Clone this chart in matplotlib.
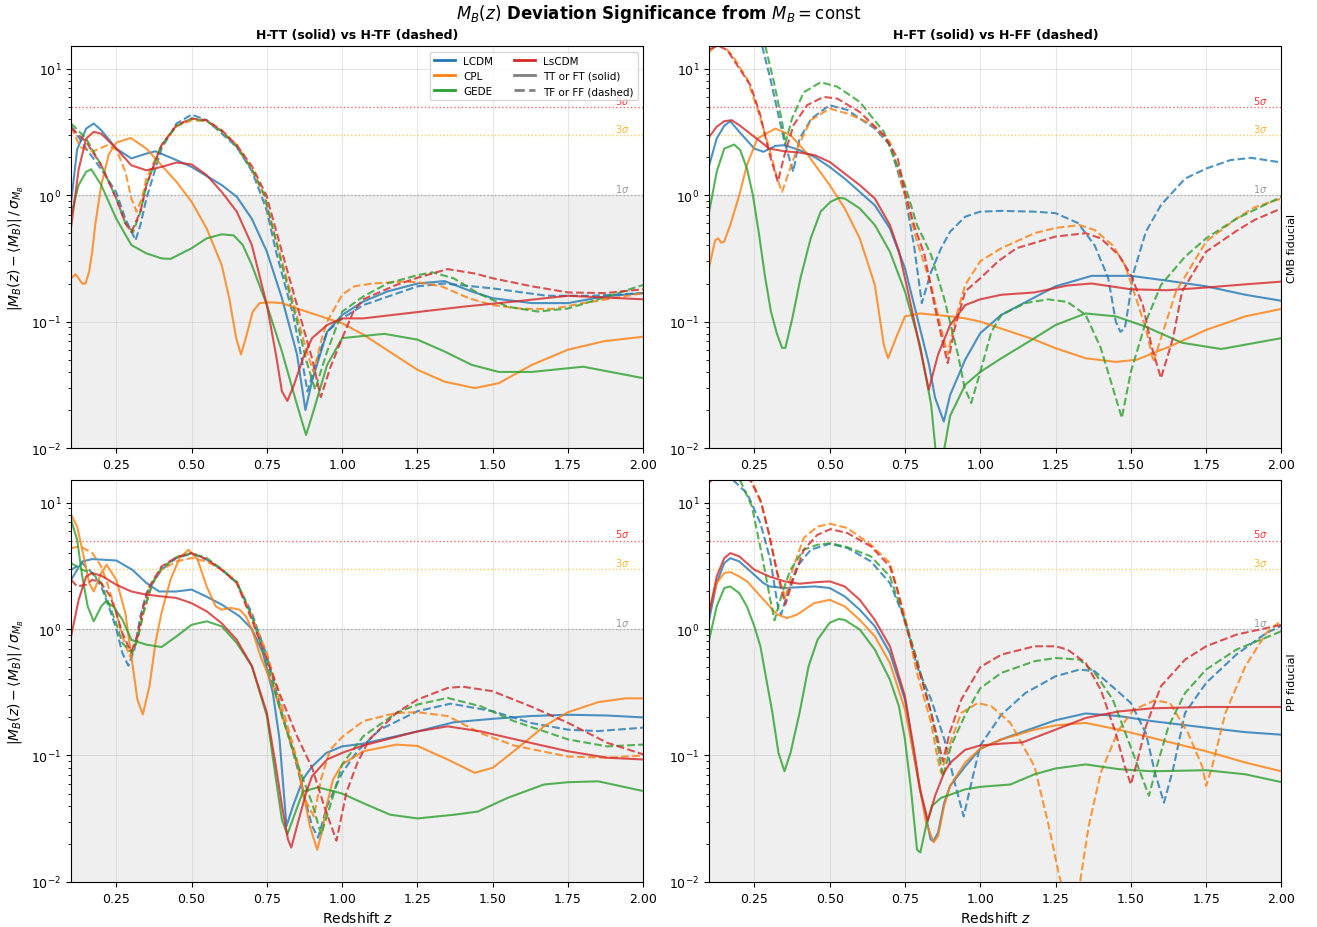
import numpy as np
import matplotlib.pyplot as plt
from matplotlib.lines import Line2D
from matplotlib.ticker import MultipleLocator

models = ['LCDM', 'CPL', 'GEDE', 'LsCDM']
model_colors = ['#1f77b4', '#ff7f0e', '#2ca02c', '#d62728']

# ---- top left: CMB fiducial, H-TT (solid) vs H-TF (dashed) ----
tl_lcdm_s_z = [0.1, 0.12, 0.15, 0.175, 0.2, 0.25, 0.3, 0.35, 0.38, 0.45, 0.5, 0.6, 0.65, 0.7, 0.75, 0.8, 0.85, 0.878, 0.9, 0.95, 1.0, 1.07, 1.15, 1.25, 1.34, 1.43, 1.5, 1.63, 1.75, 1.87, 2.0]
tl_lcdm_s_v = [0.88, 2.3, 3.36, 3.68, 3.26, 2.33, 1.95, 2.13, 2.22, 1.89, 1.67, 1.2, 0.97, 0.65, 0.357, 0.153, 0.055, 0.02, 0.034, 0.083, 0.113, 0.144, 0.173, 0.2, 0.209, 0.173, 0.153, 0.14, 0.14, 0.158, 0.168]
tl_cpl_s_z = [0.1, 0.115, 0.137, 0.148, 0.16, 0.17, 0.18, 0.2, 0.225, 0.25, 0.298, 0.35, 0.4, 0.45, 0.5, 0.55, 0.6, 0.625, 0.648, 0.664, 0.68, 0.703, 0.726, 0.76, 0.8, 0.85, 0.9, 0.95, 1.0, 1.07, 1.14, 1.25, 1.34, 1.44, 1.52, 1.63, 1.75, 1.87, 2.0]
tl_cpl_s_v = [0.22, 0.237, 0.2, 0.2, 0.25, 0.357, 0.58, 1.2, 2.1, 2.6, 2.83, 2.33, 1.72, 1.27, 0.886, 0.545, 0.28, 0.153, 0.074, 0.055, 0.074, 0.12, 0.14, 0.142, 0.14, 0.127, 0.116, 0.106, 0.097, 0.079, 0.0615, 0.0416, 0.0335, 0.0298, 0.0326, 0.0455, 0.06, 0.07, 0.076]
tl_gede_s_z = [0.1, 0.125, 0.15, 0.167, 0.2, 0.25, 0.3, 0.35, 0.4, 0.43, 0.5, 0.55, 0.6, 0.64, 0.67, 0.7, 0.75, 0.8, 0.85, 0.88, 0.9, 0.95, 1.0, 1.07, 1.14, 1.25, 1.34, 1.43, 1.52, 1.63, 1.8, 2.0]
tl_gede_s_v = [0.7, 1.2, 1.53, 1.6, 1.2, 0.65, 0.403, 0.346, 0.316, 0.313, 0.38, 0.455, 0.49, 0.48, 0.403, 0.28, 0.135, 0.058, 0.022, 0.0127, 0.018, 0.0455, 0.074, 0.077, 0.08, 0.072, 0.058, 0.0455, 0.04, 0.04, 0.044, 0.0357]
tl_lscdm_s_z = [0.1, 0.125, 0.15, 0.175, 0.2, 0.25, 0.3, 0.35, 0.4, 0.45, 0.5, 0.55, 0.6, 0.65, 0.7, 0.75, 0.78, 0.8, 0.818, 0.84, 0.87, 0.9, 0.95, 1.0, 1.07, 1.25, 1.4, 1.57, 1.75, 2.0]
tl_lscdm_s_v = [0.56, 1.6, 2.8, 3.16, 3.06, 2.33, 1.72, 1.57, 1.67, 1.81, 1.75, 1.44, 1.06, 0.74, 0.403, 0.135, 0.055, 0.028, 0.0236, 0.0316, 0.0513, 0.074, 0.094, 0.106, 0.106, 0.119, 0.131, 0.144, 0.16, 0.15]

tl_lcdm_d_z = [0.1, 0.15, 0.2, 0.25, 0.28, 0.314, 0.33, 0.35, 0.4, 0.45, 0.5, 0.55, 0.6, 0.65, 0.7, 0.731, 0.75, 0.78, 0.8, 0.837, 0.86, 0.885, 0.91, 0.95, 1.0, 1.07, 1.25, 1.34, 1.5, 1.68, 1.83, 2.0]
tl_lcdm_d_v = [3.52, 2.33, 1.6, 1.05, 0.65, 0.44, 0.58, 0.94, 2.33, 3.68, 4.33, 3.91, 3.07, 2.4, 1.55, 1.0, 0.75, 0.36, 0.24, 0.113, 0.06, 0.028, 0.045, 0.083, 0.106, 0.135, 0.19, 0.2, 0.183, 0.16, 0.16, 0.168]
tl_cpl_d_z = [0.1, 0.13, 0.17, 0.22, 0.25, 0.28, 0.3, 0.317, 0.335, 0.35, 0.4, 0.45, 0.5, 0.55, 0.6, 0.65, 0.7, 0.74, 0.8, 0.85, 0.88, 0.905, 0.93, 0.95, 1.0, 1.04, 1.1, 1.2, 1.25, 1.33, 1.42, 1.5, 1.6, 1.7, 1.8, 1.9, 2.0]
tl_cpl_d_v = [3.46, 2.4, 2.2, 2.48, 2.3, 1.53, 0.94, 0.74, 0.94, 1.35, 2.48, 3.5, 3.9, 3.85, 3.2, 2.5, 1.6, 1.0, 0.3, 0.11, 0.06, 0.04, 0.07, 0.1, 0.163, 0.19, 0.2, 0.207, 0.205, 0.19, 0.153, 0.135, 0.126, 0.126, 0.14, 0.153, 0.168]
tl_gede_d_z = [0.1, 0.15, 0.2, 0.25, 0.28, 0.306, 0.33, 0.35, 0.4, 0.45, 0.5, 0.55, 0.6, 0.65, 0.7, 0.742, 0.8, 0.85, 0.88, 0.91, 0.95, 1.0, 1.07, 1.15, 1.25, 1.3, 1.37, 1.45, 1.55, 1.65, 1.75, 1.85, 2.0]
tl_gede_d_v = [3.68, 2.8, 1.72, 0.94, 0.6, 0.51, 0.74, 1.2, 2.48, 3.52, 4.03, 3.85, 3.2, 2.4, 1.6, 1.0, 0.28, 0.1, 0.05, 0.029, 0.058, 0.12, 0.158, 0.2, 0.233, 0.245, 0.22, 0.168, 0.131, 0.12, 0.127, 0.15, 0.195]
tl_lscdm_d_z = [0.1, 0.15, 0.2, 0.25, 0.28, 0.3, 0.33, 0.35, 0.4, 0.45, 0.5, 0.55, 0.6, 0.65, 0.7, 0.748, 0.8, 0.85, 0.9, 0.929, 0.96, 1.0, 1.037, 1.07, 1.18, 1.25, 1.35, 1.44, 1.5, 1.63, 1.75, 1.87, 2.0]
tl_lscdm_d_v = [3.4, 2.63, 1.72, 0.94, 0.6, 0.51, 0.74, 1.2, 2.48, 3.57, 4.03, 3.91, 3.26, 2.48, 1.7, 1.0, 0.357, 0.135, 0.051, 0.0253, 0.043, 0.074, 0.12, 0.15, 0.195, 0.222, 0.26, 0.24, 0.22, 0.19, 0.17, 0.168, 0.18]

# ---- top right: CMB fiducial, H-FT (solid) vs H-FF (dashed) ----
tr_lcdm_s_z = [0.1, 0.125, 0.15, 0.17, 0.2, 0.25, 0.28, 0.32, 0.35, 0.4, 0.45, 0.5, 0.55, 0.6, 0.65, 0.7, 0.75, 0.8, 0.83, 0.85, 0.879, 0.9, 0.95, 1.0, 1.07, 1.25, 1.37, 1.5, 1.625, 1.75, 1.88, 2.0]
tr_lcdm_s_v = [1.72, 2.8, 3.53, 3.84, 3.16, 2.33, 2.2, 2.45, 2.48, 2.27, 2.0, 1.67, 1.35, 1.06, 0.83, 0.545, 0.264, 0.088, 0.0455, 0.025, 0.0162, 0.0263, 0.05, 0.081, 0.113, 0.19, 0.23, 0.23, 0.21, 0.19, 0.163, 0.146]
tr_cpl_s_z = [0.1, 0.12, 0.13, 0.14, 0.15, 0.17, 0.2, 0.225, 0.26, 0.32, 0.37, 0.42, 0.5, 0.55, 0.6, 0.65, 0.68, 0.694, 0.72, 0.75, 0.8, 0.85, 0.9, 0.95, 1.0, 1.07, 1.18, 1.25, 1.35, 1.45, 1.52, 1.63, 1.75, 1.88, 2.0]
tr_cpl_s_v = [0.272, 0.44, 0.455, 0.42, 0.43, 0.58, 1.0, 1.72, 2.8, 3.36, 2.98, 2.2, 1.2, 0.785, 0.455, 0.195, 0.065, 0.0513, 0.074, 0.11, 0.116, 0.113, 0.11, 0.106, 0.1, 0.088, 0.072, 0.0616, 0.0513, 0.048, 0.05, 0.0637, 0.086, 0.11, 0.126]
tr_gede_s_z = [0.1, 0.125, 0.15, 0.183, 0.203, 0.226, 0.245, 0.265, 0.285, 0.305, 0.325, 0.342, 0.353, 0.376, 0.403, 0.437, 0.47, 0.503, 0.531, 0.55, 0.6, 0.65, 0.7, 0.75, 0.8, 0.837, 0.851, 0.866, 0.881, 0.9, 0.95, 1.0, 1.07, 1.18, 1.25, 1.35, 1.45, 1.55, 1.67, 1.8, 2.0]
tr_gede_s_v = [0.74, 1.53, 2.33, 2.51, 2.27, 1.6, 1.0, 0.5, 0.23, 0.12, 0.08, 0.062, 0.062, 0.106, 0.22, 0.455, 0.74, 0.886, 0.95, 0.94, 0.785, 0.58, 0.357, 0.173, 0.065, 0.022, 0.01, 0.006, 0.01, 0.018, 0.0316, 0.04, 0.0513, 0.074, 0.094, 0.116, 0.11, 0.091, 0.068, 0.0607, 0.074]
tr_lscdm_s_z = [0.1, 0.125, 0.15, 0.175, 0.2, 0.25, 0.3, 0.35, 0.4, 0.45, 0.5, 0.55, 0.6, 0.65, 0.7, 0.73, 0.76, 0.8, 0.829, 0.86, 0.9, 0.95, 1.0, 1.07, 1.18, 1.29, 1.37, 1.5, 1.62, 1.75, 1.88, 2.0]
tr_lscdm_s_v = [2.89, 3.47, 3.84, 3.91, 3.57, 2.89, 2.33, 2.22, 2.17, 2.07, 1.83, 1.48, 1.2, 0.94, 0.58, 0.36, 0.173, 0.0616, 0.029, 0.055, 0.094, 0.135, 0.15, 0.163, 0.17, 0.193, 0.2, 0.18, 0.177, 0.186, 0.197, 0.207]

tr_lcdm_d_z = [0.1, 0.2, 0.276, 0.303, 0.33, 0.35, 0.379, 0.4, 0.44, 0.5, 0.56, 0.6, 0.65, 0.7, 0.726, 0.75, 0.78, 0.806, 0.837, 0.87, 0.9, 0.95, 1.0, 1.07, 1.18, 1.25, 1.325, 1.38, 1.425, 1.45, 1.465, 1.48, 1.51, 1.55, 1.6, 1.68, 1.75, 1.83, 1.9, 2.0]
tr_lcdm_d_v = [25, 25, 15, 8.3, 4.28, 2.63, 1.53, 2.8, 4.03, 5.14, 4.7, 4.03, 3.36, 2.48, 1.53, 1.0, 0.4, 0.14, 0.248, 0.38, 0.514, 0.675, 0.74, 0.75, 0.74, 0.72, 0.6, 0.4, 0.22, 0.1, 0.083, 0.088, 0.248, 0.514, 0.834, 1.35, 1.62, 1.89, 1.97, 1.81]
tr_cpl_d_z = [0.1, 0.125, 0.15, 0.18, 0.226, 0.264, 0.3, 0.326, 0.342, 0.365, 0.392, 0.437, 0.5, 0.56, 0.637, 0.7, 0.726, 0.75, 0.79, 0.837, 0.87, 0.892, 0.915, 0.95, 1.0, 1.07, 1.18, 1.25, 1.33, 1.38, 1.44, 1.48, 1.51, 1.55, 1.575, 1.6, 1.65, 1.75, 1.85, 1.91, 2.0]
tr_cpl_d_v = [13.5, 15.5, 15.0, 12.4, 8.3, 4.5, 2.33, 1.35, 1.06, 1.53, 2.33, 3.91, 4.83, 4.4, 3.68, 2.63, 1.62, 1.0, 0.43, 0.195, 0.088, 0.055, 0.1, 0.195, 0.3, 0.38, 0.5, 0.55, 0.58, 0.53, 0.4, 0.28, 0.173, 0.088, 0.048, 0.074, 0.173, 0.43, 0.65, 0.8, 0.94]
tr_gede_d_z = [0.1, 0.2, 0.287, 0.315, 0.342, 0.353, 0.375, 0.414, 0.47, 0.525, 0.6, 0.68, 0.75, 0.79, 0.837, 0.88, 0.926, 0.948, 0.97, 1.0, 1.037, 1.07, 1.15, 1.225, 1.29, 1.35, 1.4, 1.45, 1.47, 1.5, 1.55, 1.6, 1.68, 1.75, 1.85, 2.0]
tr_gede_d_v = [25, 30, 14.8, 7.8, 3.8, 2.56, 4.03, 6.5, 7.8, 7.2, 5.45, 3.16, 1.2, 0.58, 0.336, 0.153, 0.055, 0.03, 0.0227, 0.04, 0.083, 0.113, 0.14, 0.15, 0.143, 0.113, 0.062, 0.025, 0.0173, 0.04, 0.1, 0.195, 0.326, 0.455, 0.65, 0.97]
tr_lscdm_d_z = [0.1, 0.13, 0.16, 0.19, 0.237, 0.27, 0.298, 0.328, 0.35, 0.38, 0.425, 0.48, 0.525, 0.6, 0.68, 0.726, 0.75, 0.78, 0.815, 0.848, 0.88, 0.892, 0.915, 0.95, 1.0, 1.06, 1.12, 1.25, 1.35, 1.4, 1.46, 1.5, 1.54, 1.57, 1.6, 1.64, 1.67, 1.75, 1.85, 1.91, 2.0]
tr_lscdm_d_v = [14.2, 15.2, 14.0, 10.9, 7.4, 4.28, 2.2, 1.27, 2.07, 3.57, 5.14, 5.97, 5.8, 4.54, 2.98, 1.95, 1.06, 0.58, 0.336, 0.135, 0.0616, 0.047, 0.088, 0.173, 0.22, 0.3, 0.38, 0.47, 0.5, 0.455, 0.336, 0.233, 0.135, 0.062, 0.0357, 0.074, 0.173, 0.357, 0.52, 0.635, 0.785]

# ---- bottom left: PP fiducial, H-TT (solid) vs H-TF (dashed) ----
bl_lcdm_s_z = [0.1, 0.137, 0.17, 0.25, 0.303, 0.35, 0.392, 0.45, 0.5, 0.548, 0.6, 0.659, 0.7, 0.737, 0.77, 0.792, 0.815, 0.837, 0.87, 0.9, 0.948, 1.0, 1.07, 1.25, 1.37, 1.5, 1.625, 1.75, 1.88, 2.0]
bl_lcdm_s_v = [2.45, 3.42, 3.57, 3.48, 2.94, 2.31, 1.98, 1.98, 2.05, 1.81, 1.56, 1.26, 1.0, 0.646, 0.31, 0.134, 0.0277, 0.04, 0.065, 0.082, 0.105, 0.118, 0.124, 0.155, 0.183, 0.195, 0.205, 0.21, 0.207, 0.2]
bl_cpl_s_z = [0.1, 0.12, 0.137, 0.16, 0.175, 0.2, 0.218, 0.25, 0.28, 0.3, 0.32, 0.338, 0.36, 0.38, 0.4, 0.43, 0.46, 0.49, 0.52, 0.55, 0.58, 0.6, 0.63, 0.66, 0.68, 0.7, 0.73, 0.77, 0.826, 0.859, 0.892, 0.917, 0.935, 0.95, 0.97, 1.0, 1.07, 1.18, 1.25, 1.35, 1.44, 1.5, 1.58, 1.67, 1.75, 1.85, 1.94, 2.0]
bl_cpl_s_v = [8.0, 6.46, 4.23, 2.31, 1.98, 2.77, 3.22, 2.45, 1.34, 0.61, 0.277, 0.211, 0.352, 0.775, 1.34, 2.45, 3.64, 4.23, 3.53, 2.17, 1.51, 1.42, 1.47, 1.42, 1.26, 0.995, 0.6, 0.35, 0.134, 0.073, 0.028, 0.018, 0.026, 0.042, 0.065, 0.085, 0.108, 0.122, 0.119, 0.093, 0.073, 0.08, 0.113, 0.17, 0.22, 0.264, 0.283, 0.283]
bl_gede_s_z = [0.1, 0.12, 0.137, 0.155, 0.175, 0.2, 0.215, 0.24, 0.27, 0.3, 0.35, 0.4, 0.45, 0.5, 0.55, 0.6, 0.65, 0.7, 0.75, 0.78, 0.8, 0.818, 0.84, 0.87, 0.92, 0.96, 1.0, 1.07, 1.16, 1.25, 1.37, 1.45, 1.55, 1.67, 1.75, 1.85, 2.0]
bl_gede_s_v = [7.3, 5.07, 2.6, 1.51, 1.15, 1.51, 1.65, 1.51, 1.19, 0.82, 0.752, 0.72, 0.875, 1.08, 1.15, 1.05, 0.775, 0.51, 0.205, 0.065, 0.031, 0.0238, 0.0332, 0.052, 0.056, 0.053, 0.05, 0.042, 0.034, 0.0318, 0.034, 0.036, 0.0463, 0.059, 0.0615, 0.0625, 0.0523]
bl_lscdm_s_z = [0.1, 0.125, 0.15, 0.17, 0.2, 0.25, 0.3, 0.35, 0.4, 0.45, 0.5, 0.55, 0.6, 0.65, 0.7, 0.75, 0.78, 0.8, 0.82, 0.831, 0.85, 0.88, 0.9, 0.95, 1.0, 1.07, 1.25, 1.35, 1.46, 1.625, 1.75, 1.88, 2.0]
bl_lscdm_s_v = [0.875, 1.7, 2.6, 2.77, 2.64, 2.24, 1.98, 1.87, 1.81, 1.76, 1.6, 1.38, 1.11, 0.82, 0.51, 0.217, 0.082, 0.04, 0.0217, 0.0187, 0.0277, 0.0507, 0.0687, 0.093, 0.105, 0.12, 0.155, 0.17, 0.155, 0.126, 0.108, 0.096, 0.093]

bl_lcdm_d_z = [0.1, 0.137, 0.17, 0.2, 0.225, 0.25, 0.27, 0.29, 0.31, 0.33, 0.35, 0.4, 0.45, 0.5, 0.55, 0.6, 0.65, 0.7, 0.75, 0.8, 0.85, 0.88, 0.9, 0.92, 0.95, 1.0, 1.05, 1.125, 1.25, 1.36, 1.5, 1.625, 1.75, 1.85, 2.0]
bl_lcdm_d_v = [2.94, 3.32, 2.77, 2.17, 1.51, 1.0, 0.646, 0.513, 0.687, 1.26, 1.92, 2.94, 3.64, 3.93, 3.53, 2.94, 2.31, 1.34, 0.61, 0.217, 0.082, 0.042, 0.0277, 0.0224, 0.04, 0.073, 0.108, 0.16, 0.224, 0.257, 0.224, 0.181, 0.16, 0.156, 0.166]
bl_cpl_d_z = [0.1, 0.13, 0.17, 0.2, 0.22, 0.25, 0.27, 0.295, 0.32, 0.34, 0.37, 0.4, 0.45, 0.5, 0.55, 0.6, 0.65, 0.7, 0.75, 0.8, 0.85, 0.87, 0.906, 0.93, 0.96, 1.0, 1.07, 1.18, 1.25, 1.35, 1.46, 1.57, 1.75, 1.88, 2.0]
bl_cpl_d_v = [4.36, 4.5, 4.0, 3.12, 2.31, 1.34, 0.875, 0.609, 0.82, 1.34, 2.31, 2.94, 3.42, 3.64, 3.42, 2.94, 2.38, 1.26, 0.646, 0.245, 0.093, 0.048, 0.033, 0.065, 0.111, 0.14, 0.187, 0.217, 0.22, 0.205, 0.15, 0.12, 0.098, 0.096, 0.1]
bl_gede_d_z = [0.1, 0.137, 0.17, 0.2, 0.22, 0.25, 0.27, 0.303, 0.32, 0.34, 0.37, 0.4, 0.45, 0.5, 0.55, 0.6, 0.65, 0.7, 0.75, 0.8, 0.85, 0.9, 0.93, 0.96, 1.0, 1.07, 1.18, 1.25, 1.35, 1.46, 1.57, 1.75, 1.88, 2.0]
bl_gede_d_v = [3.32, 2.94, 2.77, 2.31, 1.7, 1.11, 0.775, 0.646, 0.82, 1.34, 2.31, 3.03, 3.7, 3.98, 3.64, 2.98, 2.34, 1.26, 0.54, 0.205, 0.088, 0.042, 0.0238, 0.04, 0.085, 0.142, 0.217, 0.253, 0.285, 0.245, 0.187, 0.134, 0.118, 0.122]
bl_lscdm_d_z = [0.1, 0.12, 0.15, 0.17, 0.2, 0.23, 0.25, 0.27, 0.29, 0.3, 0.32, 0.34, 0.36, 0.4, 0.45, 0.5, 0.55, 0.6, 0.65, 0.7, 0.75, 0.8, 0.85, 0.9, 0.94, 0.981, 1.014, 1.05, 1.09, 1.18, 1.25, 1.35, 1.4, 1.5, 1.625, 1.75, 1.88, 2.0]
bl_lscdm_d_v = [2.45, 2.17, 2.24, 2.45, 2.31, 1.81, 1.34, 0.93, 0.73, 0.667, 0.875, 1.51, 2.17, 3.12, 3.7, 3.98, 3.57, 2.94, 2.31, 1.18, 0.573, 0.277, 0.142, 0.08, 0.04, 0.0212, 0.051, 0.087, 0.134, 0.217, 0.277, 0.342, 0.35, 0.322, 0.245, 0.181, 0.126, 0.102]

# ---- bottom right: PP fiducial, H-FT (solid) vs H-FF (dashed) ----
br_lcdm_s_z = [0.1, 0.125, 0.15, 0.17, 0.2, 0.25, 0.28, 0.3, 0.35, 0.4, 0.45, 0.5, 0.55, 0.6, 0.65, 0.7, 0.75, 0.78, 0.8, 0.82, 0.835, 0.844, 0.86, 0.88, 0.9, 0.95, 1.0, 1.07, 1.18, 1.25, 1.35, 1.46, 1.57, 1.75, 1.88, 2.0]
br_lcdm_s_v = [1.19, 2.31, 3.32, 3.63, 3.42, 2.68, 2.31, 2.17, 2.11, 2.14, 2.17, 2.11, 1.81, 1.42, 1.05, 0.646, 0.277, 0.099, 0.054, 0.033, 0.0218, 0.021, 0.0246, 0.042, 0.0575, 0.082, 0.113, 0.134, 0.166, 0.19, 0.215, 0.205, 0.187, 0.166, 0.153, 0.146]
br_cpl_s_z = [0.1, 0.125, 0.15, 0.17, 0.2, 0.226, 0.281, 0.326, 0.359, 0.392, 0.448, 0.5, 0.55, 0.6, 0.65, 0.7, 0.75, 0.78, 0.8, 0.82, 0.845, 0.86, 0.88, 0.9, 0.95, 1.0, 1.07, 1.18, 1.25, 1.35, 1.46, 1.57, 1.75, 1.88, 2.0]
br_cpl_s_v = [1.38, 2.31, 2.77, 2.82, 2.6, 2.38, 1.7, 1.3, 1.22, 1.3, 1.6, 1.7, 1.51, 1.18, 0.875, 0.54, 0.231, 0.099, 0.054, 0.0295, 0.0206, 0.023, 0.04, 0.0575, 0.088, 0.113, 0.134, 0.16, 0.173, 0.181, 0.16, 0.138, 0.108, 0.088, 0.075]
br_gede_s_z = [0.1, 0.125, 0.15, 0.17, 0.2, 0.225, 0.25, 0.27, 0.29, 0.31, 0.33, 0.35, 0.37, 0.4, 0.43, 0.46, 0.5, 0.53, 0.55, 0.6, 0.65, 0.7, 0.73, 0.75, 0.77, 0.79, 0.801, 0.82, 0.84, 0.87, 0.9, 0.95, 1.0, 1.1, 1.18, 1.25, 1.35, 1.46, 1.57, 1.75, 1.88, 2.0]
br_gede_s_v = [0.824, 1.51, 2.11, 2.17, 1.92, 1.51, 1.05, 0.73, 0.398, 0.217, 0.105, 0.075, 0.105, 0.217, 0.507, 0.824, 1.12, 1.2, 1.18, 0.99, 0.687, 0.398, 0.245, 0.134, 0.054, 0.018, 0.0171, 0.0277, 0.04, 0.0463, 0.049, 0.054, 0.0565, 0.059, 0.071, 0.079, 0.085, 0.078, 0.075, 0.0765, 0.071, 0.0616]
br_lscdm_s_z = [0.1, 0.125, 0.15, 0.17, 0.2, 0.25, 0.3, 0.35, 0.4, 0.45, 0.5, 0.55, 0.6, 0.65, 0.7, 0.75, 0.78, 0.8, 0.826, 0.85, 0.88, 0.9, 0.95, 1.0, 1.07, 1.14, 1.25, 1.35, 1.46, 1.57, 1.75, 2.0]
br_lscdm_s_v = [1.34, 2.6, 3.63, 3.98, 3.75, 2.94, 2.6, 2.38, 2.28, 2.34, 2.38, 2.17, 1.7, 1.18, 0.73, 0.294, 0.111, 0.054, 0.0305, 0.048, 0.073, 0.0875, 0.111, 0.12, 0.124, 0.127, 0.16, 0.198, 0.223, 0.236, 0.242, 0.242]

br_lcdm_d_z = [0.1, 0.15, 0.181, 0.226, 0.27, 0.303, 0.33, 0.339, 0.36, 0.392, 0.437, 0.5, 0.56, 0.637, 0.7, 0.75, 0.79, 0.837, 0.881, 0.915, 0.945, 0.97, 1.0, 1.07, 1.15, 1.25, 1.33, 1.38, 1.45, 1.5, 1.55, 1.58, 1.61, 1.64, 1.68, 1.75, 1.85, 1.95, 2.0]
br_lcdm_d_v = [25, 25, 14.9, 11.8, 6.87, 3.53, 1.42, 1.3, 1.92, 3.12, 4.23, 4.72, 4.36, 3.42, 2.31, 1.18, 0.507, 0.277, 0.134, 0.0608, 0.033, 0.06, 0.12, 0.21, 0.312, 0.423, 0.478, 0.463, 0.332, 0.26, 0.15, 0.073, 0.0424, 0.0775, 0.217, 0.375, 0.627, 0.93, 1.06]
br_cpl_d_z = [0.1, 0.15, 0.2, 0.242, 0.276, 0.303, 0.326, 0.353, 0.38, 0.414, 0.459, 0.503, 0.559, 0.637, 0.7, 0.75, 0.79, 0.837, 0.859, 0.87, 0.892, 0.937, 0.992, 1.037, 1.1, 1.18, 1.225, 1.26, 1.29, 1.31, 1.33, 1.36, 1.4, 1.46, 1.51, 1.58, 1.63, 1.69, 1.737, 1.75, 1.77, 1.814, 1.88, 1.95, 2.0]
br_cpl_d_v = [14.5, 18, 18, 14.9, 9.35, 5.07, 2.77, 1.76, 3.12, 5.24, 6.45, 6.79, 6.28, 4.63, 3.32, 1.26, 0.45, 0.18, 0.093, 0.073, 0.111, 0.217, 0.26, 0.245, 0.181, 0.082, 0.0295, 0.0118, 0.006, 0.0055, 0.0095, 0.0277, 0.073, 0.16, 0.231, 0.273, 0.26, 0.15, 0.082, 0.0575, 0.082, 0.217, 0.507, 0.93, 1.17]
br_gede_d_z = [0.1, 0.15, 0.203, 0.242, 0.276, 0.303, 0.317, 0.342, 0.37, 0.414, 0.459, 0.503, 0.559, 0.637, 0.7, 0.75, 0.79, 0.837, 0.859, 0.876, 0.903, 0.948, 1.0, 1.07, 1.18, 1.25, 1.33, 1.38, 1.44, 1.49, 1.54, 1.56, 1.58, 1.625, 1.68, 1.75, 1.85, 2.0]
br_gede_d_v = [18, 18, 14.9, 9.3, 3.75, 1.7, 1.17, 1.92, 2.94, 4.23, 4.63, 4.77, 4.43, 3.75, 2.6, 1.18, 0.573, 0.217, 0.119, 0.068, 0.119, 0.205, 0.34, 0.45, 0.556, 0.59, 0.573, 0.45, 0.277, 0.134, 0.0645, 0.048, 0.073, 0.17, 0.312, 0.478, 0.687, 0.96]
br_lscdm_d_z = [0.1, 0.15, 0.2, 0.237, 0.27, 0.298, 0.326, 0.353, 0.375, 0.414, 0.459, 0.503, 0.559, 0.637, 0.7, 0.726, 0.75, 0.79, 0.837, 0.859, 0.876, 0.898, 0.937, 1.0, 1.07, 1.18, 1.25, 1.29, 1.35, 1.4, 1.45, 1.48, 1.5, 1.52, 1.55, 1.6, 1.68, 1.75, 1.85, 2.0]
br_lscdm_d_v = [14.5, 18, 18, 14.9, 10.5, 5.73, 2.77, 1.56, 2.31, 4.23, 5.55, 6.16, 5.73, 4.5, 3.12, 2.0, 1.12, 0.539, 0.217, 0.134, 0.09, 0.15, 0.277, 0.5, 0.627, 0.73, 0.73, 0.687, 0.54, 0.332, 0.15, 0.082, 0.059, 0.0875, 0.17, 0.353, 0.573, 0.73, 0.902, 1.08]

panel_titles = ['H-TT (solid) vs H-TF (dashed)', 'H-FT (solid) vs H-FF (dashed)']
row_labels = ['CMB fiducial', 'PP fiducial']

panels = {
    (0, 0): [(tl_lcdm_s_z, tl_lcdm_s_v, tl_lcdm_d_z, tl_lcdm_d_v),
             (tl_cpl_s_z, tl_cpl_s_v, tl_cpl_d_z, tl_cpl_d_v),
             (tl_gede_s_z, tl_gede_s_v, tl_gede_d_z, tl_gede_d_v),
             (tl_lscdm_s_z, tl_lscdm_s_v, tl_lscdm_d_z, tl_lscdm_d_v)],
    (0, 1): [(tr_lcdm_s_z, tr_lcdm_s_v, tr_lcdm_d_z, tr_lcdm_d_v),
             (tr_cpl_s_z, tr_cpl_s_v, tr_cpl_d_z, tr_cpl_d_v),
             (tr_gede_s_z, tr_gede_s_v, tr_gede_d_z, tr_gede_d_v),
             (tr_lscdm_s_z, tr_lscdm_s_v, tr_lscdm_d_z, tr_lscdm_d_v)],
    (1, 0): [(bl_lcdm_s_z, bl_lcdm_s_v, bl_lcdm_d_z, bl_lcdm_d_v),
             (bl_cpl_s_z, bl_cpl_s_v, bl_cpl_d_z, bl_cpl_d_v),
             (bl_gede_s_z, bl_gede_s_v, bl_gede_d_z, bl_gede_d_v),
             (bl_lscdm_s_z, bl_lscdm_s_v, bl_lscdm_d_z, bl_lscdm_d_v)],
    (1, 1): [(br_lcdm_s_z, br_lcdm_s_v, br_lcdm_d_z, br_lcdm_d_v),
             (br_cpl_s_z, br_cpl_s_v, br_cpl_d_z, br_cpl_d_v),
             (br_gede_s_z, br_gede_s_v, br_gede_d_z, br_gede_d_v),
             (br_lscdm_s_z, br_lscdm_s_v, br_lscdm_d_z, br_lscdm_d_v)],
}

sigma_levels = [1, 3, 5]
sigma_colors = ['gray', 'orange', 'red']

fig, axes = plt.subplots(2, 2, figsize=(13.17, 9.28), dpi=100)
plt.subplots_adjust(left=0.054, right=0.973, top=0.949, bottom=0.0485, wspace=0.115, hspace=0.08)

for (r, c), curves in panels.items():
    ax = axes[r, c]
    ax.axhspan(1e-4, 1, color='gray', alpha=0.12, lw=0, zorder=0)
    for lev, col in zip(sigma_levels, sigma_colors):
        ax.axhline(lev, color=col, ls=':', lw=1, alpha=0.6, zorder=1)
        ax.text(1.955, lev * 1.02, r'$%d\sigma$' % lev, color=col, fontsize=7,
                ha='right', va='bottom', alpha=0.8)
    for (sz, sv, dz, dv), col in zip(curves, model_colors):
        ax.plot(sz, sv, color=col, lw=1.5, alpha=0.8, ls='-')
        ax.plot(dz, dv, color=col, lw=1.5, alpha=0.8, ls='--')
    ax.set_yscale('log')
    ax.set_xlim(0.1, 2.0)
    ax.set_ylim(1e-2, 15)
    ax.xaxis.set_major_locator(MultipleLocator(0.25))
    ax.grid(True, alpha=0.3)
    ax.tick_params(labelsize=9)
    if r == 0:
        ax.set_title(panel_titles[c], fontsize=9, fontweight='bold')
    if r == 1:
        ax.set_xlabel('Redshift $z$', fontsize=10)
    if c == 0:
        ax.set_ylabel(r'$|M_B(z) - \langle M_B \rangle| \, / \, \sigma_{M_B}$', fontsize=10)
    if c == 1:
        ax.text(1.01, 0.5, row_labels[r], transform=ax.transAxes, rotation=90,
                va='center', ha='left', fontsize=8)

handles = [Line2D([0], [0], color=col, lw=2) for col in model_colors]
labels = list(models)
handles += [Line2D([0], [0], color='gray', lw=2, ls='-'),
            Line2D([0], [0], color='gray', lw=2, ls='--')]
labels += ['TT or FT (solid)', 'TF or FF (dashed)']
axes[0, 0].legend(handles, labels, loc='upper right', ncol=2, fontsize=7.5, framealpha=0.8)

fig.suptitle(r'$M_B(z)$ Deviation Significance from $M_B = \mathrm{const}$',
             fontsize=12, fontweight='bold', y=0.997)

plt.savefig('out.png', dpi=100)
